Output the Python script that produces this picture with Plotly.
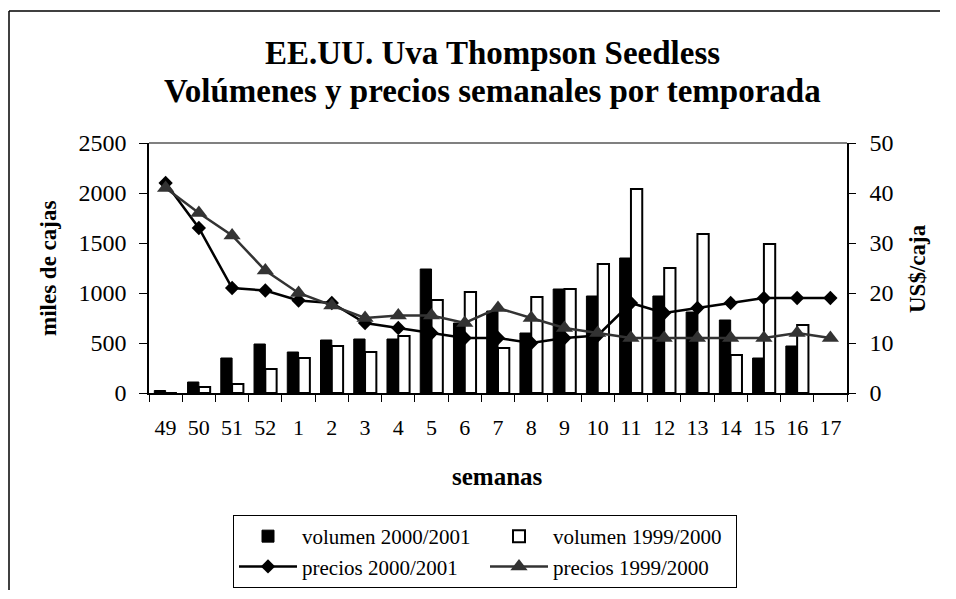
import plotly.graph_objects as go

semanas = ["49", "50", "51", "52", "1", "2", "3", "4", "5", "6", "7",
           "8", "9", "10", "11", "12", "13", "14", "15", "16", "17"]
vol_2000_2001 = [25, 110, 350, 490, 410, 530, 540, 540, 1240, 700, 820,
                 600, 1040, 970, 1350, 970, 810, 730, 350, 470, None]
vol_1999_2000 = [0, 60, 90, 240, 350, 470, 410, 570, 930, 1010, 450,
                 960, 1040, 1290, 2040, 1250, 1590, 380, 1490, 680, None]
precio_2000_2001 = [42, 33, 21, 20.5, 18.5, 18, 14, 13, 12, 11, 11,
                    10, 11, 11.5, 18, 16, 17, 18, 19, 19, 19]
precio_1999_2000 = [41, 36, 31.5, 24.5, 20, 17.5, 15, 15.5, 15.5, 14, 17,
                    15, 13, 12, 11, 11, 11, 11, 11, 12, 11]

FONT = "Liberation Serif"

# page offset (browser body margin) and plot area in screen pixels
OFF = 8
L, R, T, B = 149, 847, 143, 393
W, H = 956 - 2 * OFF, 599 - 2 * OFF
PW, PH = R - L, B - T


def px(x):
    return (x - L) / PW


def py(y):
    return (B - y) / PH


fig = go.Figure()
fig.add_trace(go.Bar(x=semanas, y=vol_2000_2001, name="volumen 2000/2001",
                     marker=dict(color="black", line=dict(color="black", width=1))))
fig.add_trace(go.Bar(x=semanas, y=vol_1999_2000, name="volumen 1999/2000",
                     marker=dict(color="white", line=dict(color="black", width=2))))
fig.add_trace(go.Scatter(x=semanas, y=precio_2000_2001, name="precios 2000/2001",
                         yaxis="y2", mode="lines+markers",
                         line=dict(color="black", width=2.5),
                         marker=dict(symbol="diamond", size=11, color="black")))
fig.add_trace(go.Scatter(x=semanas, y=precio_1999_2000, name="precios 1999/2000",
                         yaxis="y2", mode="lines+markers",
                         line=dict(color="#333333", width=2.5),
                         marker=dict(symbol="triangle-up", size=15, color="#333333")))

fig.update_layout(
    width=W, height=H,
    margin=dict(l=L - OFF, r=W - (R - OFF), t=T - OFF, b=H - (B - OFF), pad=0,
                autoexpand=False),
    paper_bgcolor="white", plot_bgcolor="white",
    font=dict(family=FONT, size=22, color="black"),
    barmode="group", bargap=0.32, bargroupgap=0,
    showlegend=True,
    legend=dict(orientation="h", x=px(233), xanchor="left", y=py(515), yanchor="top",
                bordercolor="black", borderwidth=1, bgcolor="white",
                font=dict(family=FONT, size=21, color="black"),
                itemwidth=58, entrywidth=178, tracegroupgap=0, traceorder="normal"),
    xaxis=dict(type="category", range=[-0.5, 20.5], automargin=False,
               showline=True, linecolor="black", linewidth=1.5,
               ticks="outside", ticklen=7, tickcolor="black", tickson="boundaries",
               showgrid=False, zeroline=False, tickangle=0,
               tickfont=dict(family=FONT, size=22), ticklabelstandoff=14),
    yaxis=dict(range=[0, 2500], tickvals=[0, 500, 1000, 1500, 2000, 2500],
               automargin=False,
               showline=True, linecolor="black", linewidth=1.5,
               ticks="outside", ticklen=8, tickcolor="black",
               showgrid=False, zeroline=False,
               tickfont=dict(family=FONT, size=24), ticklabelstandoff=8),
    yaxis2=dict(range=[0, 50], tickvals=[0, 10, 20, 30, 40, 50], overlaying="y",
                automargin=False,
                side="right", showline=True, linecolor="black", linewidth=1.5,
                ticks="outside", ticklen=7, tickcolor="black",
                showgrid=False, zeroline=False,
                tickfont=dict(family=FONT, size=24), ticklabelstandoff=9),
)

# plot-area frame (grey top edge) and outer chart frame (kept inside the figure)
fig.add_shape(type="line", xref="paper", yref="paper", x0=0, x1=1, y0=1, y1=1,
              line=dict(color="#808080", width=2), layer="below")
fig.add_shape(type="line", xref="paper", yref="paper", x0=px(9), x1=px(940),
              y0=py(11), y1=py(11), line=dict(color="black", width=1.5))
fig.add_shape(type="line", xref="paper", yref="paper", x0=px(9), x1=px(9),
              y0=py(11), y1=py(590), line=dict(color="black", width=1.5))

annotations = [
    dict(text="<b>EE.UU. Uva Thompson Seedless</b>", x=px(492), y=py(53),
         font=dict(family=FONT, size=33)),
    dict(text="<b>Volúmenes y precios semanales por temporada</b>", x=px(492), y=py(91),
         font=dict(family=FONT, size=33)),
    dict(text="<b>miles de cajas</b>", x=px(48), y=py(269), textangle=-90,
         font=dict(family=FONT, size=23)),
    dict(text="<b>US$/caja</b>", x=px(917), y=py(269), textangle=-90,
         font=dict(family=FONT, size=23)),
    dict(text="<b>semanas</b>", x=px(497), y=py(476),
         font=dict(family=FONT, size=25)),
]
for a in annotations:
    fig.add_annotation(xref="paper", yref="paper", showarrow=False,
                       xanchor="center", yanchor="middle", **a)

fig.write_html("out.html")
